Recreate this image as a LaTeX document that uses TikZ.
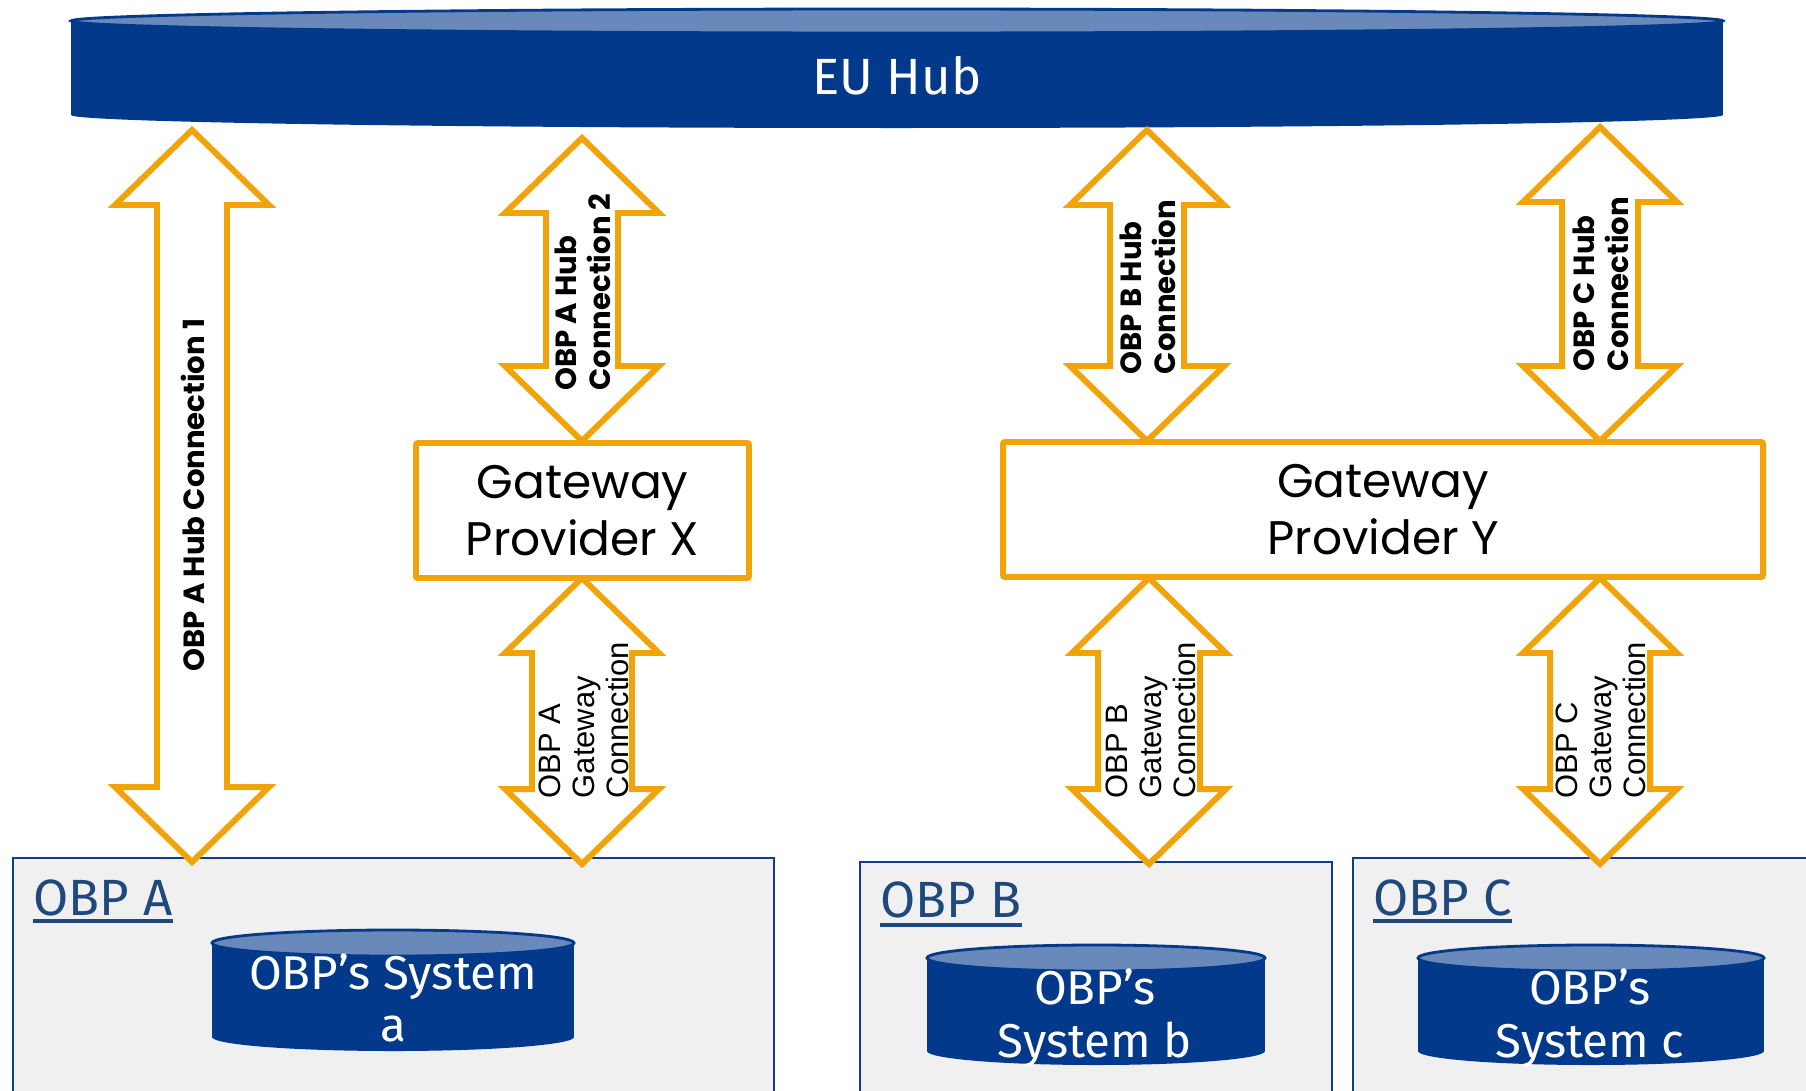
\documentclass[tikz,border=0pt]{standalone}
\usepackage{fontspec}
\newfontfamily\gothfont{Poppins}
\newfontfamily\twfont{Fira Sans}
\newfontfamily\arialfont{Liberation Sans}
\definecolor{hubblue}{RGB}{3,57,138}
\definecolor{toplight}{RGB}{104,137,185}
\definecolor{linkorange}{RGB}{241,163,10}
\definecolor{obpgrey}{RGB}{240,240,240}
\definecolor{obpedge}{RGB}{16,62,140}
\definecolor{obptext}{RGB}{31,73,125}

\begin{document}
\begin{tikzpicture}[x=0.1mm,y=-0.1mm,
	link/.style={draw=linkorange,fill=white,line width=1.7pt},
	gateway/.style={draw=linkorange,fill=white,line width=1.7pt,rounded corners=0.6pt,
		minimum height=13.5mm,align=center,inner sep=0pt,
		font=\gothfont\fontsize{13.4pt}{16.2pt}\selectfont},
	hublbl/.style={rotate=90,align=left,inner sep=0pt,
		font=\gothfont\bfseries\fontsize{8.3pt}{9.7pt}\selectfont},
	gwlbl/.style={rotate=90,align=left,inner sep=0pt,
		font=\arialfont\fontsize{8.8pt}{9.7pt}\selectfont},
	obp/.style={draw=obpedge,fill=obpgrey,line width=0.6pt},
	obplbl/.style={anchor=base west,inner sep=0pt,text=obptext,
		font=\twfont\fontsize{14.5pt}{16pt}\selectfont},
	uline/.style={draw=obptext,line width=1.2pt},
	systxt/.style={align=center,inner sep=0pt,text=white,
		font=\twfont\fontsize{13.5pt}{15pt}\selectfont}]
	\useasboundingbox (0,0) rectangle (1806,1090);

	% EU Hub
	\fill[hubblue] (897,115) ellipse [x radius=826,y radius=13];
	\fill[hubblue] (71,21) rectangle (1723,115);
	\filldraw[fill=toplight,draw=hubblue,line width=0.8pt] (897,21) ellipse [x radius=826,y radius=12];
	\node[text=white,font=\twfont\fontsize{14.5pt}{16pt}\selectfont] (hub) at (897,76) {EU Hub};

	% OBPs
	\draw[obp] (13,858) rectangle (774,1094);
	\draw[obp] (860,862) rectangle (1332,1094);
	\draw[obp] (1353,858) rectangle (1830,1094);
	\node[obplbl] (obpA) at (33,915) {OBP A};
	\node[obplbl] (obpB) at (880,917) {OBP B};
	\node[obplbl] (obpC) at (1373,915) {OBP C};
	\draw[uline] ([yshift=-0.6mm]obpA.base west) -- ([yshift=-0.6mm]obpA.base east);
	\draw[uline] ([yshift=-0.8mm]obpB.base west) -- ([yshift=-0.8mm]obpB.base east);
	\draw[uline] ([yshift=-0.6mm]obpC.base west) -- ([yshift=-0.6mm]obpC.base east);

	% Systeme
	\foreach \cx/\rx/\t/\b in {393/181/943/1037, 1096/169/958/1051, 1591/173/958/1051} {
		\fill[hubblue] (\cx,\b) ellipse [x radius=\rx,y radius=14];
		\fill[hubblue] ({\cx-\rx},\t) rectangle ({\cx+\rx},\b);
		\filldraw[fill=toplight,draw=hubblue,line width=0.8pt] (\cx,\t) ellipse [x radius=\rx,y radius=13];
	}
	\node[systxt] (sysA) at (393,998) {OBP’s System\\a};
	\node[systxt] (sysB) at (1095,1018) {OBP’s\\System b};
	\node[systxt] (sysC) at (1590,1018) {OBP’s\\System c};

	% Verbindungen
	\foreach \x/\t/\b/\s in {192/130/862/35, 582/138/441/36, 582/578/864/50,
		1147/130/441/37, 1600/127/441/38, 1149/578/864/51, 1600/578/864/50} {
		\draw[link] (\x,\t) -- ({\x+77},{\t+75}) -- ({\x+\s},{\t+75}) -- ({\x+\s},{\b-75})
			-- ({\x+77},{\b-75}) -- (\x,\b) -- ({\x-77},{\b-75}) -- ({\x-\s},{\b-75})
			-- ({\x-\s},{\t+75}) -- ({\x-77},{\t+75}) -- cycle;
	}
	\node[hublbl] (hubA1) at (193,495) {OBP A Hub Connection 1};
	\node[hublbl] (hubA2) at (583,292) {OBP A Hub\\Connection 2};
	\node[hublbl] (hubB) at (1148,287) {OBP B Hub\\Connection};
	\node[hublbl] (hubC) at (1601,284) {OBP C Hub\\Connection};
	\node[gwlbl] (gwA) at (584,720) {OBP A\\Gateway\\Connection};
	\node[gwlbl] (gwB) at (1151,720) {OBP B\\Gateway\\Connection};
	\node[gwlbl] (gwC) at (1601,720) {OBP C\\Gateway\\Connection};

	% Gateway Provider
	\node[gateway,minimum width=33.3mm] (gwX) at (582.5,510.5) {Gateway\\Provider X};
	\node[gateway,minimum width=76mm] (gwY) at (1383,509.5) {Gateway\\Provider Y};
\end{tikzpicture}
\end{document}
